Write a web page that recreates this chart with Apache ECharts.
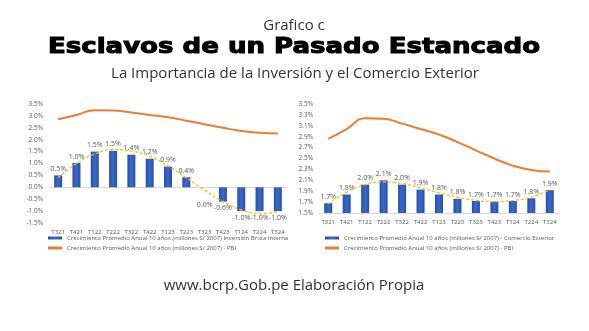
<!DOCTYPE html>
<html>
<head>
<meta charset="utf-8">
<script src="https://cdn.jsdelivr.net/npm/echarts@6/dist/echarts.min.js"></script>
<style>
html,body{margin:0;padding:0;background:#fff;}
#c{width:589px;height:331px;}
</style>
</head>
<body>
<div id="c"></div>
<script>
var categories = ['T321','T421','T122','T222','T322','T422','T123','T223','T323','T423','T124','T224','T324'];
var inversion = [0.5, 1.02, 1.5, 1.53, 1.37, 1.2, 0.87, 0.42, 0.0, -0.6, -1.0, -1.0, -1.0];
var inversionTrend = [0.4, 1.0, 1.4, 1.58, 1.52, 1.3, 0.9, 0.4, -0.12, -0.6, -0.95, -1.1, -1.02];
var comercio = [1.68, 1.84, 2.02, 2.1, 2.02, 1.93, 1.84, 1.76, 1.72, 1.71, 1.72, 1.77, 1.92];
var comercioTrend = [1.67, 1.88, 2.02, 2.07, 2.04, 1.96, 1.87, 1.79, 1.73, 1.71, 1.73, 1.79, 1.92];
var pbi = [2.86, 3.04, 3.24, 3.23, 3.14, 3.04, 2.94, 2.8, 2.65, 2.5, 2.37, 2.29, 2.26];

var nameInv = 'Crecimiento Promedio Anual 10 años (millones S/ 2007) Inversión Bruta Interna';
var nameCom = 'Crecimiento Promedio Anual 10 años (millones S/ 2007) - Comercio Exterior';
var namePbi = 'Crecimiento Promedio Anual 10 años (millones S/ 2007) - PBI';

var gray = '#595959';
var font = '"Open Sans"';
var barColor = new echarts.graphic.LinearGradient(0,0,1,0,[{offset:0,color:'#2750a8'},{offset:0.5,color:'#3a68cc'},{offset:1,color:'#2750a8'}]);

function pct(v){ return v.toFixed(1) + '%'; }

var invData = inversion.map(function(v){
  return {value: v, label: {position: v > 0 ? 'top' : 'bottom', distance: v === 0 ? 14 : 3}};
});

var chart = echarts.init(document.getElementById('c'));
chart.setOption({
  animation: false,
  backgroundColor: '#fff',
  textStyle: {fontFamily: font},
  graphic: [
    {type:'text', x:294, y:26, style:{text:'Grafico c', font:'15px "Open Sans"', fill:'#333', align:'center', verticalAlign:'middle'}},
    {type:'text', x:294, y:48, scaleX:1.24, scaleY:1,
      style:{text:'Esclavos de un Pasado Estancado', font:'bold 21px "DejaVu Sans"', fill:'#000', stroke:'#000', lineWidth:1, align:'center', verticalAlign:'middle'}},
    {type:'text', x:295, y:74, style:{text:'La Importancia de la Inversión y el Comercio Exterior', font:'15px "Open Sans"', fill:'#333', align:'center', verticalAlign:'middle'}},
    {type:'text', x:294, y:286, style:{text:'www.bcrp.Gob.pe Elaboración Propia', font:'15px "Open Sans"', fill:'#333', align:'center', verticalAlign:'middle'}}
  ],
  legend: [
    {orient:'vertical', left:43, top:230, itemWidth:14, itemHeight:3, itemGap:4,
     textStyle:{fontSize:6, color:gray, fontFamily:font}, selectedMode:false,
     data:[{name:nameInv, icon:'rect'},{name:namePbi, icon:'rect'}]},
    {orient:'vertical', left:320, top:230, itemWidth:14, itemHeight:3, itemGap:4,
     textStyle:{fontSize:6, color:gray, fontFamily:font}, selectedMode:false,
     data:[{name:nameCom, icon:'rect'},{name:namePbi, icon:'rect'}]}
  ],
  grid: [
    {left:49, right:302, top:104, bottom:108},
    {left:319, right:30, top:104, bottom:118}
  ],
  xAxis: [
    {type:'category', gridIndex:0, data:categories, axisTick:{show:false},
     axisLine:{lineStyle:{color:'#d9d9d9'}}, axisLabel:{fontSize:6, color:gray, margin:6, interval:0}},
    {type:'category', gridIndex:1, data:categories, axisTick:{show:false},
     axisLine:{lineStyle:{color:'#d9d9d9'}}, axisLabel:{fontSize:6, color:gray, margin:6, interval:0}}
  ],
  yAxis: [
    {type:'value', gridIndex:0, min:-1.5, max:3.5, interval:0.5, splitLine:{show:false},
     axisLabel:{fontSize:6.5, color:gray, formatter:pct, margin:6}},
    {type:'value', gridIndex:1, min:1.5, max:3.5, interval:0.2, splitLine:{show:false},
     axisLabel:{fontSize:6.5, color:gray, formatter:pct, margin:6}}
  ],
  series: [
    {name:nameInv, type:'bar', xAxisIndex:0, yAxisIndex:0, data:invData, barWidth:8,
     itemStyle:{color:barColor}, label:{show:true, fontSize:7, color:gray, formatter:function(p){return pct(p.value);}}},
    {name:'trend1', type:'line', xAxisIndex:0, yAxisIndex:0, data:inversionTrend, smooth:true, symbol:'none',
     lineStyle:{color:'#f5c400', width:1.3, type:[3,2]}, z:3},
    {name:namePbi, type:'line', xAxisIndex:0, yAxisIndex:0, data:pbi, smooth:true, symbol:'none',
     itemStyle:{color:'#ed7d31'}, lineStyle:{color:'#ed7d31', width:2}},
    {name:nameCom, type:'bar', xAxisIndex:1, yAxisIndex:1, data:comercio, barWidth:8,
     itemStyle:{color:barColor}, label:{show:true, position:'top', distance:3, fontSize:7, color:gray, formatter:function(p){return pct(p.value);}}},
    {name:'trend2', type:'line', xAxisIndex:1, yAxisIndex:1, data:comercioTrend, smooth:true, symbol:'none',
     lineStyle:{color:'#f5c400', width:1.3, type:[3,2]}, z:3},
    {name:namePbi, type:'line', xAxisIndex:1, yAxisIndex:1, data:pbi, smooth:true, symbol:'none',
     itemStyle:{color:'#ed7d31'}, lineStyle:{color:'#ed7d31', width:2}}
  ]
});
</script>
</body>
</html>
